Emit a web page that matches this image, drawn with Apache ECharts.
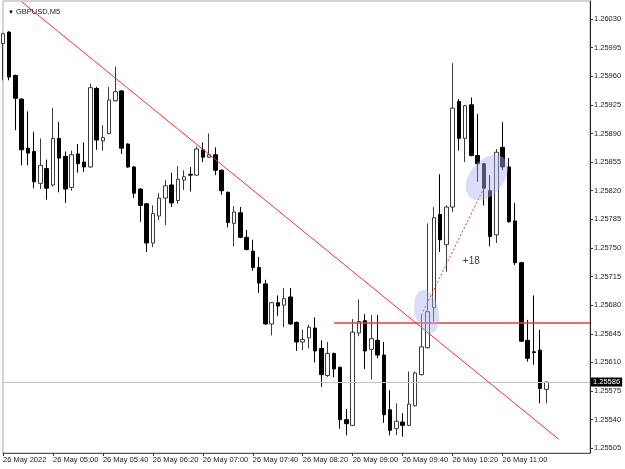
<!DOCTYPE html>
<html>
<head>
<meta charset="utf-8">
<script src="https://cdn.jsdelivr.net/npm/echarts@6/dist/echarts.min.js"></script>
<style>
html, body { margin: 0; padding: 0; background: #fff; }
#chart { width: 625px; height: 469px; }
</style>
</head>
<body>
<div id="chart"></div>
<script>
// GBPUSD M5, 26 May 2022, first bar 04:20
const openP = [
  1.26000, 1.26014, 1.25961, 1.25932, 1.25872, 1.25868, 1.25829, 1.25847, 1.25827, 1.25884,
  1.25862, 1.25824, 1.25865, 1.25855, 1.25849, 1.25945, 1.25881, 1.25890, 1.25930, 1.25942,
  1.25877, 1.25849, 1.25822, 1.25804, 1.25756, 1.25789, 1.25811, 1.25827, 1.25808, 1.25833,
  1.25840, 1.25839, 1.25870, 1.25861, 1.25864, 1.25845, 1.25818, 1.25780, 1.25793, 1.25763,
  1.25746, 1.25726, 1.25706, 1.25657, 1.25683, 1.25680, 1.25690, 1.25659, 1.25635, 1.25640,
  1.25652, 1.25627, 1.25594, 1.25621, 1.25604, 1.25540, 1.25533, 1.25646, 1.25661, 1.25626,
  1.25637, 1.25619, 1.25552, 1.25529, 1.25537, 1.25533, 1.25557, 1.25595, 1.25628, 1.25677,
  1.25791, 1.25754, 1.25800, 1.25929, 1.25884, 1.25925, 1.25863, 1.25853, 1.25820, 1.25766,
  1.25873, 1.25849, 1.25783, 1.25732, 1.25637, 1.25623, 1.25625, 1.25577
]
const closeP = [
  1.26012, 1.25959, 1.25933, 1.25870, 1.25866, 1.25831, 1.25851, 1.25823, 1.25884, 1.25860,
  1.25822, 1.25864, 1.25853, 1.25849, 1.25946, 1.25882, 1.25885, 1.25931, 1.25941, 1.25872,
  1.25849, 1.25817, 1.25802, 1.25756, 1.25792, 1.25811, 1.25826, 1.25805, 1.25834, 1.25837,
  1.25839, 1.25871, 1.25861, 1.25864, 1.25845, 1.25820, 1.25781, 1.25794, 1.25763, 1.25748,
  1.25726, 1.25707, 1.25657, 1.25683, 1.25679, 1.25688, 1.25657, 1.25635, 1.25638, 1.25653,
  1.25624, 1.25595, 1.25621, 1.25602, 1.25540, 1.25535, 1.25647, 1.25660, 1.25624, 1.25639,
  1.25619, 1.25546, 1.25527, 1.25538, 1.25533, 1.25559, 1.25597, 1.25629, 1.25672, 1.25787,
  1.25760, 1.25800, 1.25921, 1.25884, 1.25924, 1.25863, 1.25853, 1.25823, 1.25764, 1.25867,
  1.25849, 1.25782, 1.25732, 1.25636, 1.25615, 1.25622, 1.25578, 1.25586
]
const lowP = [
  1.25955, 1.25955, 1.25894, 1.25851, 1.25851, 1.25823, 1.25822, 1.25809, 1.25825, 1.25818,
  1.25805, 1.25820, 1.25842, 1.25843, 1.25848, 1.25870, 1.25869, 1.25889, 1.25929, 1.25865,
  1.25848, 1.25811, 1.25782, 1.25745, 1.25751, 1.25784, 1.25778, 1.25800, 1.25804, 1.25821,
  1.25819, 1.25838, 1.25855, 1.25860, 1.25839, 1.25815, 1.25775, 1.25752, 1.25762, 1.25747,
  1.25722, 1.25695, 1.25656, 1.25643, 1.25667, 1.25653, 1.25656, 1.25624, 1.25625, 1.25627,
  1.25610, 1.25580, 1.25592, 1.25592, 1.25529, 1.25521, 1.25532, 1.25642, 1.25602, 1.25589,
  1.25615, 1.25536, 1.25521, 1.25521, 1.25519, 1.25532, 1.25556, 1.25594, 1.25627, 1.25660,
  1.25745, 1.25721, 1.25794, 1.25869, 1.25855, 1.25862, 1.25831, 1.25802, 1.25752, 1.25756,
  1.25845, 1.25781, 1.25729, 1.25635, 1.25611, 1.25607, 1.25560, 1.25560
]
const highP = [
  1.26013, 1.26015, 1.25962, 1.25933, 1.25917, 1.25892, 1.25884, 1.25858, 1.25921, 1.25904,
  1.25868, 1.25869, 1.25877, 1.25879, 1.25951, 1.25947, 1.25900, 1.25947, 1.25972, 1.25943,
  1.25878, 1.25850, 1.25823, 1.25805, 1.25802, 1.25817, 1.25833, 1.25842, 1.25850, 1.25845,
  1.25849, 1.25874, 1.25879, 1.25890, 1.25873, 1.25846, 1.25819, 1.25801, 1.25800, 1.25772,
  1.25760, 1.25739, 1.25711, 1.25684, 1.25692, 1.25701, 1.25701, 1.25660, 1.25650, 1.25656,
  1.25665, 1.25637, 1.25635, 1.25622, 1.25605, 1.25553, 1.25663, 1.25687, 1.25669, 1.25668,
  1.25668, 1.25635, 1.25576, 1.25560, 1.25548, 1.25599, 1.25599, 1.25668, 1.25780, 1.25800,
  1.25840, 1.25802, 1.25976, 1.25932, 1.25925, 1.25934, 1.25914, 1.25854, 1.25839, 1.25871,
  1.25904, 1.25860, 1.25805, 1.25733, 1.25662, 1.25692, 1.25650, 1.25586
]
const yTicks = [
  1.25505, 1.25540, 1.25575, 1.25610, 1.25645, 1.25680, 1.25715, 1.25750,
  1.25785, 1.25820, 1.25855, 1.25890, 1.25925, 1.25960, 1.25995, 1.26030
]
const lastPrice = 1.25586
const levelPrice = 1.25658
// drawn objects, in [bar index, price]
const trendLine = [[3, 1.26051], [89, 1.25516]]
const swingLine = [[67, 1.25668], [77, 1.25823]]
const swingText = [75, 1.25734]
const ellipseA = [68, 1.25672]
const ellipseB = [77, 1.25836]

const slotCount = 95 // bars plus empty space on the right
const times = []
for (let i = 0; i < slotCount; i++) {
  const m = 4 * 60 + 20 + i * 5
  times.push('26 May ' + String(Math.floor(m / 60)).padStart(2, '0') + ':' + String(m % 60).padStart(2, '0'))
}
times[0] = '26 May 2022'

const candles = openP.map((o, i) => [o, closeP[i], lowP[i], highP[i]])
const font = 'Liberation Sans, DejaVu Sans, sans-serif'
const showTick = (index) => index % 8 === 0 && index < openP.length

const chart = echarts.init(document.getElementById('chart'))
chart.setOption({
  animation: false,
  backgroundColor: '#fff',
  title: {
    text: '{t|▼} GBPUSD,M5',
    left: 3,
    top: 3,
    textStyle: {
      fontFamily: font,
      fontSize: 7.5,
      fontWeight: 'normal',
      color: '#222',
      rich: { t: { fontSize: 6, color: '#000' } }
    }
  },
  grid: {
    left: 2.5,
    right: 35,
    top: 1,
    bottom: 16,
    show: true,
    borderColor: '#a8a8a8',
    borderWidth: 1
  },
  xAxis: {
    type: 'category',
    data: times,
    boundaryGap: false,
    axisLine: { lineStyle: { color: '#555' } },
    axisTick: { interval: showTick, length: 3, lineStyle: { color: '#333' } },
    axisLabel: {
      interval: showTick,
      align: 'left',
      margin: 3,
      fontFamily: font,
      fontSize: 7.5,
      color: '#222'
    },
    splitLine: { show: false }
  },
  yAxis: {
    type: 'value',
    position: 'right',
    min: 1.254992,
    max: 1.26052,
    axisLine: { show: true, lineStyle: { color: '#222' } },
    axisTick: { show: true, customValues: yTicks, length: 3, lineStyle: { color: '#333' } },
    axisLabel: {
      customValues: yTicks,
      formatter: v => v.toFixed(5),
      margin: 4,
      fontFamily: font,
      fontSize: 7.5,
      color: '#222'
    },
    splitLine: { show: false }
  },
  series: [
    {
      type: 'candlestick',
      data: candles,
      barWidth: 4,
      itemStyle: {
        color: '#fff',
        color0: '#000',
        borderColor: '#3a3a3a',
        borderColor0: '#000',
        borderWidth: 1
      },
      markLine: {
        silent: true,
        symbol: ['none', 'none'],
        animation: false,
        label: { show: false },
        data: [
          [
            {
              coord: [0, lastPrice],
              lineStyle: { color: '#c4c4c4', type: 'solid', width: 1 },
              label: {
                show: true,
                position: 'end',
                distance: 1,
                formatter: lastPrice.toFixed(5),
                backgroundColor: '#000',
                color: '#fff',
                padding: [1, 2, 0, 2],
                fontFamily: font,
                fontSize: 7.5
              }
            },
            { coord: [slotCount - 1, lastPrice] }
          ],
          [
            { coord: [53, levelPrice], lineStyle: { color: '#e83c3c', type: 'solid', width: 1.5 } },
            { coord: [slotCount - 1, levelPrice] }
          ],
          [
            { coord: trendLine[0], lineStyle: { color: '#f03030', type: 'solid', width: 1 } },
            { coord: trendLine[1] }
          ],
          [
            { coord: swingLine[0], lineStyle: { color: '#f03030', type: [2, 2], width: 1 } },
            { coord: swingLine[1] }
          ]
        ]
      },
      markPoint: {
        silent: true,
        animation: false,
        data: [
          {
            coord: ellipseA,
            symbol: 'circle',
            symbolSize: [24, 44],
            symbolRotate: 12,
            symbolOffset: [-1, 0],
            itemStyle: { color: 'rgba(175,180,235,0.45)' },
            label: { show: false }
          },
          {
            coord: ellipseB,
            symbol: 'circle',
            symbolSize: [34, 52],
            symbolRotate: -40,
            symbolOffset: [3, 0],
            itemStyle: { color: 'rgba(175,180,235,0.45)' },
            label: { show: false }
          },
          {
            coord: swingText,
            symbol: 'rect',
            symbolSize: 1,
            itemStyle: { color: 'rgba(0,0,0,0)' },
            label: {
              show: true,
              position: 'inside',
              formatter: '+18',
              color: '#2b3a5c',
              fontFamily: font,
              fontSize: 10
            }
          }
        ]
      }
    }
  ]
})
</script>
</body>
</html>
